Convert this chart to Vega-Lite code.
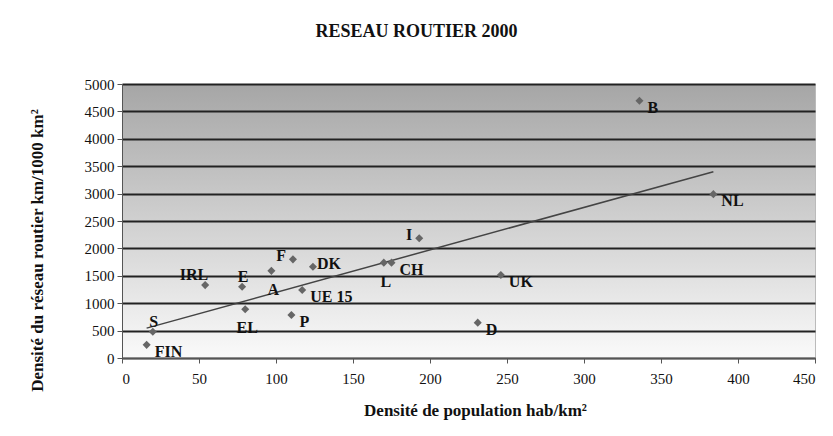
{
  "$schema": "https://vega.github.io/schema/vega-lite/v6.json",
  "autosize": {"type": "none"},
  "padding": {"left": 122, "top": 84, "right": 18, "bottom": 78},
  "width": 693,
  "height": 274,
  "background": "white",
  "title": {
    "text": "RESEAU ROUTIER 2000",
    "font": "Liberation Serif",
    "fontSize": 18,
    "fontWeight": "bold",
    "color": "#111",
    "anchor": "middle",
    "dx": -52,
    "offset": 36
  },
  "config": {
    "view": {
      "stroke": "#bbbbbb",
      "strokeWidth": 1,
      "fill": {"gradient": "linear", "x1": 0, "y1": 0, "x2": 0, "y2": 1,
        "stops": [{"offset": 0, "color": "#a6a6a6"}, {"offset": 1, "color": "#fafafa"}]}
    }
  },
  "data": {
    "values": [
      {"pays": "FIN", "pop": 16, "route": 240},
      {"pays": "S", "pop": 20, "route": 480},
      {"pays": "IRL", "pop": 54, "route": 1330},
      {"pays": "E", "pop": 78, "route": 1300},
      {"pays": "EL", "pop": 80, "route": 890},
      {"pays": "A", "pop": 97, "route": 1590},
      {"pays": "F", "pop": 111, "route": 1800},
      {"pays": "DK", "pop": 124, "route": 1665},
      {"pays": "UE 15", "pop": 117, "route": 1240},
      {"pays": "P", "pop": 110, "route": 785},
      {"pays": "L", "pop": 170, "route": 1740},
      {"pays": "CH", "pop": 175, "route": 1740},
      {"pays": "I", "pop": 193, "route": 2185},
      {"pays": "UK", "pop": 246, "route": 1515},
      {"pays": "D", "pop": 231, "route": 645},
      {"pays": "B", "pop": 336, "route": 4695},
      {"pays": "NL", "pop": 384, "route": 2990}
    ]
  },
  "encoding": {
    "x": {
      "field": "pop", "type": "quantitative",
      "scale": {"domain": [0, 450], "nice": false, "zero": false},
      "axis": {
        "values": [0, 50, 100, 150, 200, 250, 300, 350, 400, 450],
        "format": "d",
        "grid": false,
        "labelFont": "Liberation Serif, serif", "labelFontSize": 15, "labelFontWeight": "normal", "labelColor": "#111",
        "tickColor": "#555", "domainColor": "#555", "tickSize": 5,
        "labelPadding": 8,
        "title": "Densité de population hab/km²",
        "titleFont": "Liberation Serif", "titleFontSize": 17, "titleFontWeight": "bold", "titleColor": "#111",
        "titleX": 353, "titleY": 52, "titleBaseline": "middle", "titleAlign": "center"
      }
    },
    "y": {
      "field": "route", "type": "quantitative",
      "scale": {"domain": [0, 5000], "nice": false},
      "axis": {
        "values": [0, 500, 1000, 1500, 2000, 2500, 3000, 3500, 4000, 4500, 5000],
        "format": "d",
        "grid": true, "gridColor": "#222", "gridWidth": 2,
        "labelFont": "Liberation Serif, serif", "labelFontSize": 15, "labelFontWeight": "normal", "labelColor": "#111",
        "tickColor": "#555", "domainColor": "#555", "tickSize": 5,
        "labelPadding": 3,
        "title": "Densité du réseau routier km/1000 km²",
        "titleFont": "Liberation Serif", "titleFontSize": 17, "titleFontWeight": "bold", "titleColor": "#111",
        "titleAngle": -90,
        "titleX": -85, "titleY": 166, "titleBaseline": "middle", "titleAlign": "center"
      }
    }
  },
  "layer": [
    {
      "data": {"values": [{"pop": 16, "route": 545}, {"pop": 384, "route": 3400}]},
      "mark": {"type": "line", "color": "#444", "strokeWidth": 1.5}
    },
    {
      "mark": {"type": "point", "shape": "diamond", "filled": true, "color": "#666", "size": 65, "opacity": 1}
    },
    {
      "transform": [{"filter": {"field": "pays", "oneOf": ["B", "NL", "UK", "D", "CH", "UE 15", "P", "FIN"]}}],
      "mark": {"type": "text", "align": "left", "baseline": "middle", "dx": 8, "dy": 7, "font": "Liberation Serif", "fontSize": 16, "fontWeight": "bold", "color": "#111"},
      "encoding": {"text": {"field": "pays"}}
    },
    {
      "transform": [{"filter": {"field": "pays", "oneOf": ["DK"]}}],
      "mark": {"type": "text", "align": "left", "baseline": "middle", "dx": 4, "dy": -3, "font": "Liberation Serif", "fontSize": 16, "fontWeight": "bold", "color": "#111"},
      "encoding": {"text": {"field": "pays"}}
    },
    {
      "transform": [{"filter": {"field": "pays", "oneOf": ["I", "F"]}}],
      "mark": {"type": "text", "align": "right", "baseline": "middle", "dx": -7, "dy": -3, "font": "Liberation Serif", "fontSize": 16, "fontWeight": "bold", "color": "#111"},
      "encoding": {"text": {"field": "pays"}}
    },
    {
      "transform": [{"filter": {"field": "pays", "oneOf": ["IRL"]}}],
      "mark": {"type": "text", "align": "right", "baseline": "middle", "dx": 3, "dy": -10, "font": "Liberation Serif", "fontSize": 16, "fontWeight": "bold", "color": "#111"},
      "encoding": {"text": {"field": "pays"}}
    },
    {
      "transform": [{"filter": {"field": "pays", "oneOf": ["E", "S"]}}],
      "mark": {"type": "text", "align": "center", "baseline": "middle", "dx": 1, "dy": -10, "font": "Liberation Serif", "fontSize": 16, "fontWeight": "bold", "color": "#111"},
      "encoding": {"text": {"field": "pays"}}
    },
    {
      "transform": [{"filter": {"field": "pays", "oneOf": ["A", "EL", "L"]}}],
      "mark": {"type": "text", "align": "center", "baseline": "middle", "dx": 2, "dy": 19, "font": "Liberation Serif", "fontSize": 16, "fontWeight": "bold", "color": "#111"},
      "encoding": {"text": {"field": "pays"}}
    }
  ]
}
